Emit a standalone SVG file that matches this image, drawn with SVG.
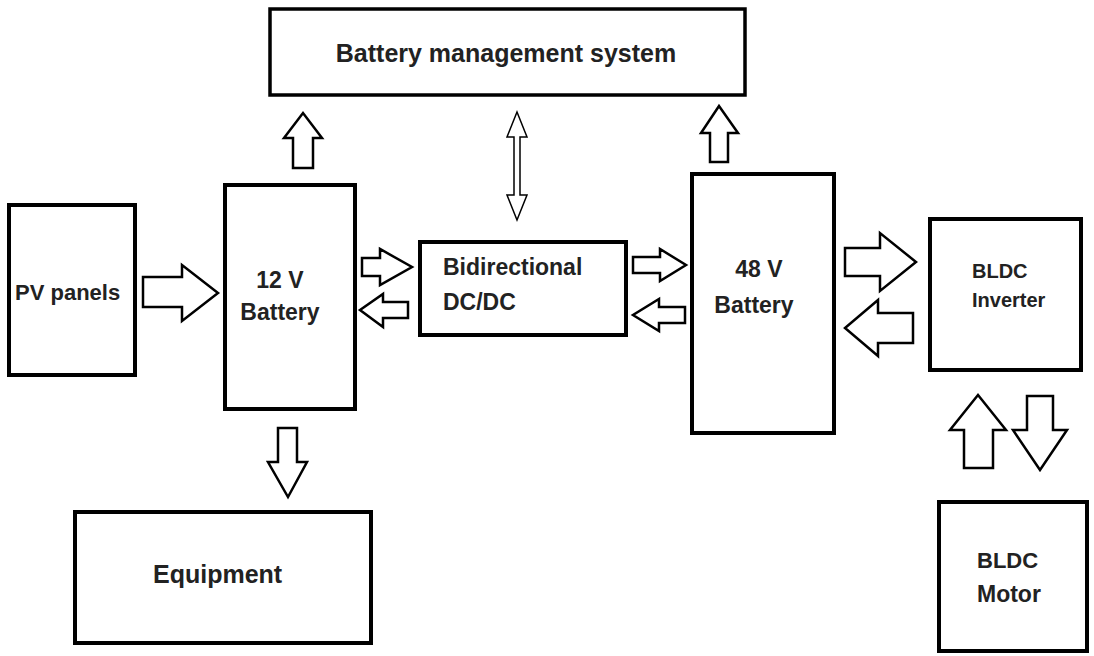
<svg xmlns="http://www.w3.org/2000/svg" width="1094" height="656" viewBox="0 0 1094 656">
<style>
.box{fill:#fff;stroke:#000;stroke-width:4}
.arr{fill:#fff;stroke:#000;stroke-width:2.5;stroke-linejoin:miter}
.thin{fill:#fff;stroke:#000;stroke-width:1.5}
text{font-family:"Liberation Sans",Arial,sans-serif;font-weight:bold;fill:#222}
</style>
<rect width="1094" height="656" fill="#fff"/>
<g id="bms"><rect class="box" x="270" y="9" width="475" height="86" style="stroke-width:3.5"/><text x="506" y="62" font-size="25" text-anchor="middle">Battery management system</text></g>
<g id="pv"><rect class="box" x="9" y="205" width="126" height="170"/><text x="15" y="300" font-size="22">PV panels</text></g>
<g id="bat12"><rect class="box" x="225" y="185" width="130" height="224"/><text x="280" y="288" font-size="23" text-anchor="middle">12 V</text><text x="280" y="320" font-size="23" text-anchor="middle">Battery</text></g>
<g id="dcdc"><rect class="box" x="420" y="242" width="206" height="93"/><text x="443" y="275" font-size="23">Bidirectional</text><text x="443" y="310" font-size="23">DC/DC</text></g>
<g id="bat48"><rect class="box" x="692" y="174" width="142" height="259"/><text x="759" y="277" font-size="23" text-anchor="middle">48 V</text><text x="754" y="313" font-size="23" text-anchor="middle">Battery</text></g>
<g id="inverter"><rect class="box" x="930" y="219" width="151" height="151"/><text x="972" y="278" font-size="20">BLDC</text><text x="972" y="307" font-size="20">Inverter</text></g>
<g id="motor"><rect class="box" x="939" y="502" width="148" height="149"/><text x="977" y="568" font-size="22">BLDC</text><text x="977" y="602" font-size="23">Motor</text></g>
<g id="equipment"><rect class="box" x="75" y="512" width="296" height="131"/><text x="153" y="583" font-size="25">Equipment</text></g>
<g id="connectors">
<polygon class="arr" points="143,277 182,277 182,265 218,293 182,321 182,307 143,307"/>
<polygon class="arr" points="362,258 380,258 380,249 412,267 380,285 380,276 362,276"/>
<polygon class="arr" points="408,302 383,302 383,294 360,310 383,327 383,318 408,318"/>
<polygon class="arr" points="633,257 660,257 660,249 686,265 660,281 660,273 633,273"/>
<polygon class="arr" points="685,307 659,307 659,299 633,315 659,331 659,323 685,323"/>
<polygon class="arr" points="845,248 880,248 880,233 916,262 880,291 880,276 845,276"/>
<polygon class="arr" points="913,313 878,313 878,300 845,328 878,356 878,343 913,343"/>
<polygon class="arr" points="293,168 293,138 284,138 303,113 322,138 313,138 313,168"/>
<polygon class="arr" points="710,162 710,133 701,133 719,106 738,133 728,133 728,162"/>
<polygon class="arr" points="278,428 297,428 297,462 307,462 288,497 268,462 278,462"/>
<polygon class="arr" points="964,468 964,430 950,430 978,395 1006,430 993,430 993,468"/>
<polygon class="arr" points="1027,396 1053,396 1053,430 1067,430 1040,470 1013,430 1027,430"/>
<polygon class="thin" points="517,112 527,137 520,137 520,195 527,195 517,220 507,195 514,195 514,137 507,137"/>
</g>
</svg>
